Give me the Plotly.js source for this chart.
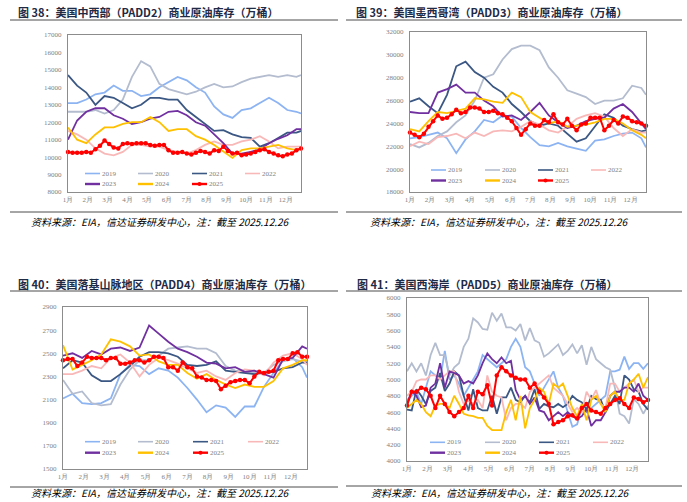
<!DOCTYPE html>
<html><head><meta charset="utf-8">
<script src="https://cdn.plot.ly/plotly-3.0.1.min.js"></script>
<style>html,body{margin:0;padding:0;background:#fff;}#chart{width:687px;height:502px;}</style>
</head><body><div id="chart"></div>
<script>
// ---------- data ----------
const monthLabels = ['1月','2月','3月','4月','5月','6月','7月','8月','9月','10月','11月','12月'];
const monthWeeks = [1, 5.33, 9.67, 14, 18.33, 22.67, 27, 31.33, 35.67, 40, 44.33, 48.67];
const years = ['2019','2020','2021','2022','2023','2024','2025'];
const weeksBi = [1,3,5,7,9,11,13,15,17,19,21,23,25,27,29,31,33,35,37,39,41,43,45,47,49,51,52];
const weeksAll = [1,2,3,4,5,6,7,8,9,10,11,12,13,14,15,16,17,18,19,20,21,22,23,24,25,26,27,28,29,30,31,32,33,34,35,36,37,38,39,40,41,42,43,44,45,46,47,48,49,50,51,52];

// PADD2 (biweekly for 2019-2024, weekly for 2025)
const p2_2019 = [13100,13100,13300,13600,13700,14100,13800,13800,13500,13600,14000,14300,14600,14400,14000,13700,12900,12450,12250,12700,12800,13100,13400,13100,12700,12600,12500];
const p2_2020 = [12600,12600,12600,12700,12500,12700,13300,14600,15500,15200,14200,13900,13750,13600,13750,14000,14200,14000,14050,14300,14500,14600,14700,14600,14700,14600,14700];
const p2_2021 = [14700,14100,13700,13000,13500,13400,13100,12800,13000,13400,13400,13300,13300,12700,12300,11900,11500,11550,11300,11150,11100,10600,10800,11100,11400,11400,11500];
const p2_2022 = [11500,11300,11000,10500,10200,10100,10300,10700,10700,10600,10600,10400,10300,10200,10400,10700,10900,10700,10700,10900,11000,11200,10900,10500,10600,10600,10600];
const p2_2023 = [11000,12100,12600,12800,12800,12400,12200,11900,12000,12200,12300,12600,12650,12400,12000,11800,11300,10800,10200,10200,10300,10450,10800,11050,11250,11600,11600];
const p2_2024 = [11700,11000,10800,11300,11700,11700,11900,12000,12000,12300,12000,11500,11600,11600,11200,11000,10700,10350,9950,10400,10500,10500,10600,10700,10500,10400,10500];
const p2_2025 = [10300,10250,10250,10250,10300,10250,10450,10650,10950,10750,10550,10500,10750,10800,10750,10800,10800,10800,10700,10650,10700,10700,10400,10250,10250,10300,10200,10150,10250,10350,10300,10200,10400,10350,10600,10350,10200,10250,10100,10150,10200,10300,10400,10450,10300,10200,10100,10050,10150,10200,10400,10500];

// PADD3
const p3_2019 = [22700,22800,23000,23200,22700,21400,22600,23300,24300,24100,24700,24600,23600,22800,22100,22000,22300,22000,21800,21600,22500,22600,22900,23100,23200,22700,21900];
const p3_2020 = [22200,21900,22300,22900,23300,24100,24700,26000,28000,28300,29600,30500,30800,30800,30400,28900,28000,26900,26600,26300,25700,26000,26000,26200,27300,27100,26500];
const p3_2021 = [25900,26200,25500,24900,26500,29000,29400,28500,28000,27200,26700,25700,25000,24200,23800,24000,23800,23100,22400,22700,23800,24800,24500,23800,23500,23300,23400];
const p3_2022 = [22000,22400,22200,22800,22900,23100,22700,23200,22900,23300,23400,23300,23700,24200,23900,23400,23200,23700,24400,24700,24900,24600,23600,22900,23500,23200,23200];
const p3_2023 = [25000,24900,24900,26700,27000,27400,26700,26700,26000,25500,24600,24700,24300,25000,25800,24700,24100,23600,23800,24200,24400,24500,25300,25700,25000,24000,23500];
const p3_2024 = [23500,23300,24200,25000,24900,25100,25300,26200,26100,25900,25800,26700,26300,25000,24500,24000,24200,23700,23800,23900,24100,24400,24400,24000,23400,23000,22700];
const p3_2025 = [23200,23000,22800,23100,23700,24200,24700,24400,24500,24800,25200,24900,25000,25400,25400,25300,25000,25000,25100,24900,24800,24500,24200,23600,23000,23500,24000,23800,23800,24300,24100,24800,24100,23900,24400,23800,23400,23900,24000,24500,24500,24500,23400,23800,24300,24000,24600,24500,24200,24100,24000,23800];

// PADD4
const p4_2019 = [2110,2150,2070,2060,2070,2110,2320,2400,2390,2320,2370,2350,2290,2200,2100,1990,2050,2030,1950,2040,2040,2210,2330,2440,2460,2380,2290];
const p4_2020 = [2270,2150,2170,2070,2050,2060,2230,2360,2440,2440,2480,2540,2550,2560,2540,2540,2500,2390,2350,2340,2330,2330,2400,2430,2450,2430,2430];
const p4_2021 = [2370,2440,2420,2310,2260,2260,2320,2390,2470,2510,2510,2500,2470,2400,2390,2400,2430,2350,2340,2330,2320,2330,2340,2370,2380,2420,2420];
const p4_2022 = [2320,2320,2350,2390,2370,2460,2490,2420,2300,2400,2460,2440,2410,2370,2330,2350,2300,2270,2330,2360,2350,2310,2420,2480,2500,2450,2400];
const p4_2023 = [2480,2500,2460,2520,2490,2540,2550,2520,2550,2740,2670,2600,2540,2510,2470,2420,2410,2370,2380,2340,2350,2320,2290,2450,2460,2560,2540];
const p4_2024 = [2570,2360,2400,2440,2490,2620,2600,2560,2480,2490,2430,2400,2400,2330,2280,2320,2270,2230,2200,2230,2210,2210,2260,2370,2400,2440,2440];
const p4_2025 = [2440,2450,2450,2390,2420,2470,2460,2460,2460,2440,2460,2460,2410,2410,2420,2440,2440,2420,2440,2470,2470,2460,2380,2380,2350,2420,2380,2370,2300,2290,2270,2270,2260,2190,2220,2250,2260,2270,2270,2240,2300,2340,2330,2340,2350,2440,2450,2450,2500,2510,2470,2470];

// PADD5 (weekly)
const p5_2019 = [4750,4800,4850,4700,4900,5100,5050,5000,5350,5000,5050,4950,4800,4900,5000,5100,5300,5250,5200,5150,5200,5250,5400,5500,5400,5150,5100,4950,4800,4900,5000,5100,4900,4800,4600,4420,4450,4650,4600,4650,4700,4750,4800,5100,5100,5120,5280,5130,5200,5200,5130,5200];
const p5_2020 = [5100,5200,5100,5200,5050,5300,5450,5300,5300,5050,5150,5200,5400,5500,5750,5700,5620,5610,5820,5720,5810,5640,5640,5600,5680,5480,5630,5480,5450,5280,5320,5380,5430,5300,5350,5430,5320,5420,5180,5400,5250,5200,5150,5120,4900,4580,4550,4460,4760,4700,4580,4680];
const p5_2021 = [4630,4620,4880,4800,4700,4860,4900,5080,4860,4950,5100,5050,4800,4620,4880,4650,4620,4620,4800,4580,4780,4780,4900,4750,4720,4800,4720,4880,4640,4700,4670,4660,4700,4660,4700,4800,4750,4720,4630,4800,4760,4750,4600,4700,4800,4700,5050,5000,4880,4850,4700,4630];
const p5_2022 = [4800,4850,4980,5000,5000,5050,5050,5000,5050,5100,5100,4850,4700,4750,4700,4750,4650,5050,4850,4800,4780,4500,4650,4700,4700,4650,4850,4900,4950,5000,5050,4900,4850,4800,4700,4600,4650,4600,4850,4750,4870,4700,4650,4950,4950,4850,4900,4950,5000,4850,4900,4900];
const p5_2023 = [4700,4860,4800,4660,4680,4900,4950,5200,4900,5100,5080,5050,4950,4980,4950,5050,5200,5320,5250,5200,5270,5200,5230,4870,4750,4800,4700,4780,4620,4600,4500,4550,4600,4550,4600,4550,4520,4550,4640,4430,4500,4500,4600,4800,4850,4850,4900,4900,4850,4950,4800,4750];
const p5_2024 = [4650,4700,4750,4700,4600,4550,4680,4700,4700,4650,4800,4700,4580,4560,4550,4530,4530,4430,4380,4380,4380,4600,4750,4500,4800,4400,4650,4750,4900,4850,4700,4950,4900,4950,4800,4650,4550,4700,4500,4750,4800,4700,4600,4800,4850,4750,4750,4950,5000,5070,4900,5030];
const p5_2025 = [4680,4850,4850,4900,4880,4800,4650,4800,4700,4600,4550,4600,4650,4800,4650,4850,4820,4930,4680,5050,5150,5100,5050,5020,5000,5000,4900,4950,4850,4780,4700,4450,4480,4500,4550,4560,4520,4650,4700,4620,4600,4580,4650,4700,4750,4770,4700,4650,4780,4760,4720,4750];

// ---------- layout helpers ----------
const W = 687, H = 502;
const px = v => v / W, py = v => 1 - v / H;
const colors = ['#8db4f2','#b3bdcf','#3b5783','#f9b8b8','#7030a0','#ffc000','#ff0000'];
const tickFont = {family:'Liberation Serif, serif', size:7, color:'#7f7f7f'};

const panels = [
  {title:'图 38：美国中西部（PADD2）商业原油库存（万桶）', series:[p2_2019,p2_2020,p2_2021,p2_2022,p2_2023,p2_2024,p2_2025], bi:true,
   box:[68,301,35,192], yr:[8000,17000], dy:1000, tx:17, ty:12, lineY:[20,212], lineX:[10,338], srcX:30, srcY:221, legY:[173.5,184], legX:[85,138,192,245]},
  {title:'图 39：美国墨西哥湾（PADD3）商业原油库存（万桶）', series:[p3_2019,p3_2020,p3_2021,p3_2022,p3_2023,p3_2024,p3_2025], bi:true,
   box:[410,646,32,192], yr:[18000,32000], dy:2000, tx:355, ty:12, lineY:[20,212], lineX:[346,682], srcX:369, srcY:221, legY:[170,180.5], legX:[431,485,538,591]},
  {title:'图 40：美国落基山脉地区（PADD4）商业原油库存（万桶）', series:[p4_2019,p4_2020,p4_2021,p4_2022,p4_2023,p4_2024,p4_2025], bi:true,
   box:[63,307,307,469], yr:[1500,2900], dy:200, tx:17, ty:284, lineY:[291,487], lineX:[10,338], srcX:30, srcY:492, legY:[441.7,452.7], legX:[85,138,193,248]},
  {title:'图 41：美国西海岸（PADD5）商业原油库存（万桶）', series:[p5_2019,p5_2020,p5_2021,p5_2022,p5_2023,p5_2024,p5_2025], bi:false,
   box:[407,648,298,461], yr:[4000,6000], dy:200, tx:356, ty:283.5, lineY:[291,486], lineX:[346,682], srcX:370, srcY:492, legY:[442.3,452.7], legX:[430,485,539,593]}
];

const data = [], shapes = [], annotations = [];
const layout = {width:W, height:H, margin:{l:0,r:0,t:0,b:0}, showlegend:false,
  paper_bgcolor:'#fff', plot_bgcolor:'#fff', shapes:shapes, annotations:annotations};

panels.forEach((p, k) => {
  const n = k === 0 ? '' : String(k + 1);
  const xa = 'x' + n, ya = 'y' + n;
  layout['xaxis' + n] = {domain:[px(p.box[0]), px(p.box[1])], anchor:ya, range:[1,52],
    tickmode:'array', tickvals:monthWeeks, ticktext:monthLabels, showline:true, mirror:true,
    linecolor:'#8c8c8c', linewidth:1.2, showgrid:false, zeroline:false, ticks:'', tickfont:tickFont, fixedrange:true};
  layout['yaxis' + n] = {domain:[py(p.box[3]), py(p.box[2])], anchor:xa, range:p.yr, dtick:p.dy, tick0:p.yr[0],
    tickformat:'d', showline:true, mirror:true, linecolor:'#8c8c8c', linewidth:1.2, showgrid:false,
    zeroline:false, ticks:'', tickfont:tickFont, ticklabelstandoff:4, fixedrange:true};
  p.series.forEach((vals, i) => {
    const last = i === 6;
    const xs = (last || !p.bi) ? weeksAll : weeksBi;
    const tr = {type:'scatter', mode: last ? 'lines+markers' : 'lines', x:xs, y:vals, xaxis:xa, yaxis:ya,
      name:years[i], line:{color:colors[i], width: last ? 2 : 1.8}, cliponaxis: !last};
    if (last) tr.marker = {color:colors[i], size:4.5};
    data.push(tr);
    // legend entry
    const row = i < 4 ? 0 : 1, col = i % 4;
    const lx = p.legX[col], ly = p.legY[row];
    shapes.push({type:'line', xref:'paper', yref:'paper', x0:px(lx), x1:px(lx+15), y0:py(ly), y1:py(ly),
      line:{color:colors[i], width: i >= 4 ? 2.4 : 1.6}});
    if (last) shapes.push({type:'circle', xref:'paper', yref:'paper', x0:px(lx+5.5), x1:px(lx+9.5),
      y0:py(ly+2), y1:py(ly-2), fillcolor:colors[i], line:{width:0}});
    annotations.push({xref:'paper', yref:'paper', x:px(lx+16), y:py(ly), xanchor:'left', yanchor:'middle',
      text:years[i], showarrow:false, font:tickFont, borderpad:0});
  });
  annotations.push({xref:'paper', yref:'paper', x:px(p.tx), y:py(p.ty), xanchor:'left', yanchor:'middle',
    text:p.title, showarrow:false, borderpad:0,
    font:{family:'Noto Sans CJK SC, sans-serif', size:11, weight:700, color:'#1f2a44'}});
  p.lineY.forEach(yv => shapes.push({type:'line', xref:'paper', yref:'paper', x0:px(p.lineX[0]), x1:px(p.lineX[1]),
    y0:py(yv), y1:py(yv), line:{color:'#4d4d4d', width:1}}));
  annotations.push({xref:'paper', yref:'paper', x:px(p.srcX), y:py(p.srcY), xanchor:'left', yanchor:'middle',
    text:'资料来源：EIA，信达证券研发中心，注：截至 2025.12.26', showarrow:false, borderpad:0,
    font:{family:'Noto Sans CJK SC, sans-serif', size:10, style:'italic', color:'#000'}});
});

Plotly.newPlot('chart', data, layout, {displayModeBar:false, staticPlot:true});
</script>
</body></html>
